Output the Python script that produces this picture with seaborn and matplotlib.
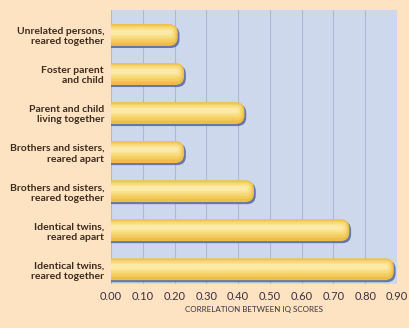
import matplotlib
matplotlib.use("Agg")
import matplotlib.pyplot as plt
import seaborn as sns
import pandas as pd
from matplotlib.patches import FancyBboxPatch
import matplotlib.patheffects as pe

categories = [
    "Unrelated persons,\nreared together",
    "Foster parent\nand child",
    "Parent and child\nliving together",
    "Brothers and sisters,\nreared apart",
    "Brothers and sisters,\nreared together",
    "Identical twins,\nreared apart",
    "Identical twins,\nreared together",
]
values = [0.21, 0.23, 0.42, 0.23, 0.45, 0.75, 0.89]
xticks = [0.0, 0.1, 0.2, 0.3, 0.4, 0.5, 0.6, 0.7, 0.8, 0.9]
xlabel = "CORRELATION BETWEEN IQ SCORES"

df = pd.DataFrame({"relation": categories, "corr": values})

sns.set_style("white")
plt.rcParams['font.family'] = ['Lato', 'DejaVu Sans']

fig = plt.figure(figsize=(4.1, 3.28), dpi=100, facecolor="#FDE3C2")
ax = fig.add_axes([0.2707, 0.134, 0.6975, 0.8355])
ax.set_facecolor("#CED8EC")

sns.barplot(data=df, x="corr", y="relation", orient="h", color="#F2C752",
            width=0.56, ax=ax, zorder=3)

ax.set_xlim(0, 0.9)
ax.set_ylim(6.38, -0.64)

# replace bars with rounded, softly shaded versions
r = 0.028
aspect = (317 / 39.2)
layers = [(0.00, 1.00, 0.000, "#EDBF4A"),
          (0.06, 0.78, 0.004, "#F3CD60"),
          (0.12, 0.58, 0.008, "#F7D977"),
          (0.20, 0.38, 0.013, "#FAE291"),
          (0.27, 0.22, 0.018, "#FCEAA8")]
for p in list(ax.patches):
    x, y = p.get_x(), p.get_y()
    w, h = p.get_width(), p.get_height()
    p.set_visible(False)
    for i, (oy, fh, shrink, col) in enumerate(layers):
        kw = {}
        if i == 0:
            kw["path_effects"] = [pe.SimplePatchShadow(offset=(1.3, -1.5),
                                                       shadow_rgbFace="#56679A",
                                                       alpha=0.85),
                                  pe.Normal()]
        patch = FancyBboxPatch((x - 0.04, y + h * oy), w + 0.04 - shrink, h * fh,
                               boxstyle=f"round,pad=0,rounding_size={r * max(fh, 0.35)}",
                               mutation_aspect=aspect, facecolor=col,
                               edgecolor="none", zorder=3 + i, **kw)
        ax.add_patch(patch)

ax.set_xticks(xticks)
ax.set_xticklabels([f"{t:.2f}" for t in xticks])
ax.grid(axis="x", color="#AEB8D3", linewidth=0.8, zorder=0)
ax.grid(axis="y", visible=False)
ax.set_axisbelow(True)
for s in ax.spines.values():
    s.set_visible(False)

ax.tick_params(axis="x", length=3, width=0.8, color="#8C97B8", labelsize=8,
               labelcolor="#3A3040", pad=2)
ax.tick_params(axis="y", length=0, labelsize=7.5, labelcolor="#3B2A1E", pad=5)
for lab in ax.get_yticklabels():
    lab.set_fontweight("bold")
    lab.set_horizontalalignment("right")
    lab.set_multialignment("right")

ax.set_ylabel("")
ax.set_xlabel(xlabel, fontsize=5.8, color="#3A3040", labelpad=3)

fig.savefig("out.png", dpi=100, facecolor=fig.get_facecolor())
